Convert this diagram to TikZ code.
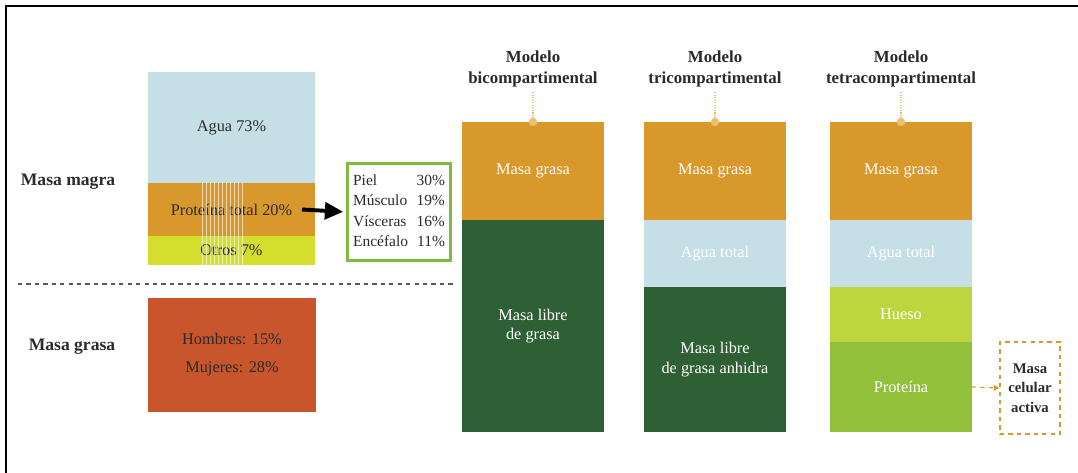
\documentclass[tikz,border=0pt]{standalone}
\usepackage{fontspec}
\setmainfont{Liberation Serif}
\usetikzlibrary{arrows.meta,positioning}
\definecolor{agua}{HTML}{C6DFE6}
\definecolor{grasa}{HTML}{D9982B}
\definecolor{otros}{HTML}{D3DF2C}
\definecolor{libre}{HTML}{2F5F35}
\definecolor{hueso}{HTML}{BDD640}
\definecolor{proteina}{HTML}{93C03B}
\definecolor{rojo}{HTML}{C8552C}
\definecolor{verde}{HTML}{7DBA3D}
\definecolor{punto}{HTML}{E9C070}
\definecolor{texto}{HTML}{2B2B2B}
\newlength{\px}
\setlength{\px}{0.025cm}

\begin{document}
\begin{tikzpicture}[
  x=0.025cm, y=-0.025cm,
  every node/.style={font=\fontsize{11.6}{14}\selectfont},
  seg/.style={rectangle, inner sep=0pt, outer sep=0pt, minimum width=167\px, align=center, text=texto},
  col/.style={seg, minimum width=142\px, text=white},
  head/.style={align=center, font=\bfseries\fontsize{12}{15}\selectfont, text=texto},
  side/.style={font=\bfseries\fontsize{12.5}{15}\selectfont, text=texto},
  guide/.style={punto, densely dotted, line width=0.8pt},
]
\useasboundingbox (0,0) rectangle (1078,473);

% Frame
\draw[line width=1.6pt] (6,473) -- (6,6) -- (1078,6);

% Masa magra
\node[side] (magra) at (68,182) {Masa magra};
\node[seg, fill=agua, minimum height=111\px] (agua) at (231.5,127.5) {Agua 73\%};
\node[seg, fill=grasa, minimum height=53\px, below=0pt of agua] (prot) {Proteína total 20\%};
\node[seg, fill=otros, minimum height=29\px, below=0pt of prot] (otros) {Otros 7\%};
\foreach \x in {202,206,...,242}
  \draw[white, opacity=0.6, line width=0.4pt] (\x,183) -- (\x,265);

% Reparto de la proteina
\node[draw=verde, line width=2.2pt, fill=white, minimum width=103\px, minimum height=97\px, inner sep=2pt, text=texto, font=\fontsize{11}{13}\selectfont] (tabla) at (399,212) {%
  \renewcommand{\arraystretch}{1.12}%
  \begin{tabular}{@{}l@{\hspace{6pt}}r@{}}
    Piel & 30\% \\
    Músculo & 19\% \\
    Vísceras & 16\% \\
    Encéfalo & 11\%
  \end{tabular}};
\draw[-{Triangle[length=13pt,width=12pt]}, line width=2.8pt, shorten >=2pt] ([xshift=-13\px]prot.east) -- (tabla.west);

\draw[dashed, black!65, line width=0.8pt] (18,284) -- (455,284);

% Masa grasa
\node[side] (grasalbl) at (72,347) {Masa grasa};
\node[seg, fill=rojo, minimum width=168\px, minimum height=114\px] (sexo) at (232,355) {Hombres: 15\%\\[6pt]Mujeres: 28\%};

% Modelo bicompartimental
\node[head] (bihead) at (533,69) {Modelo\\bicompartimental};
\node[col, fill=grasa, minimum height=98\px] (bigrasa) at (533,171) {Masa grasa};
\node[col, fill=libre, minimum height=212\px, below=0pt of bigrasa] (bilibre) {Masa libre\\de grasa};
\draw[guide] (bihead.south) -- (bigrasa.north);
\fill[punto] (bigrasa.north) circle[radius=3pt];

% Modelo tricompartimental
\node[head] (trihead) at (715,69) {Modelo\\tricompartimental};
\node[col, fill=grasa, minimum height=98\px] (trigrasa) at (715,171) {Masa grasa};
\node[col, fill=agua, minimum height=67\px, below=0pt of trigrasa] (triagua) {Agua total};
\node[col, fill=libre, minimum height=145\px, below=0pt of triagua] (trilibre) {Masa libre\\de grasa anhidra};
\draw[guide] (trihead.south) -- (trigrasa.north);
\fill[punto] (trigrasa.north) circle[radius=3pt];

% Modelo tetracompartimental
\node[head] (tetrahead) at (901,69) {Modelo\\tetracompartimental};
\node[col, fill=grasa, minimum height=98\px] (tetragrasa) at (901,171) {Masa grasa};
\node[col, fill=agua, minimum height=67\px, below=0pt of tetragrasa] (tetraagua) {Agua total};
\node[col, fill=hueso, minimum height=55\px, below=0pt of tetraagua] (tetrahueso) {Hueso};
\node[col, fill=proteina, minimum height=90\px, below=0pt of tetrahueso] (tetraprot) {Proteína};
\draw[guide] (tetrahead.south) -- (tetragrasa.north);
\fill[punto] (tetragrasa.north) circle[radius=3pt];

% Masa celular activa
\node[draw=grasa, dashed, fill=white, line width=0.8pt, minimum width=60\px, minimum height=92\px, align=center, inner sep=1pt, font=\bfseries\fontsize{10.5}{14}\selectfont, text=texto] (celular) at (1030,388) {Masa\\celular\\activa};
\draw[grasa, dashed, line width=0.8pt, -{Triangle[length=4pt,width=4pt]}] (tetraprot.east) -- (celular.west);

\end{tikzpicture}
\end{document}
